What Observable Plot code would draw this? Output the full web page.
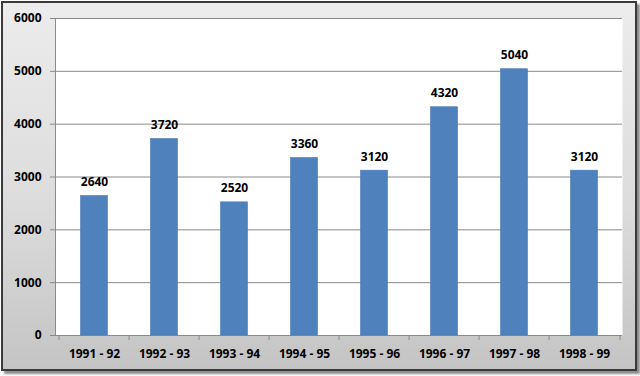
<!DOCTYPE html>
<html>
<head>
<meta charset="utf-8">
<script src="https://cdn.jsdelivr.net/npm/d3@7"></script>
<script src="https://cdn.jsdelivr.net/npm/@observablehq/plot@0.6"></script>
<style>
  html, body { margin: 0; padding: 0; background: #fff; }
  #wrap { position: relative; width: 640px; height: 376px; overflow: hidden; }
  #box {
    position: absolute; left: 1px; top: 1px; width: 636px; height: 370px;
    box-sizing: border-box; border: 2px solid #3a3a3a;
    background: linear-gradient(to bottom, #ececec 0%, #dcdcdc 55%, #c4c4c4 100%);
    box-shadow: 3px 3px 2px rgba(0,0,0,0.45);
  }
  #chart { position: absolute; left: 0; top: 0; }
  #chart svg { background: transparent !important; }
</style>
</head>
<body>
<div id="wrap"><div id="box"></div><div id="chart"></div></div>
<script>
const categories = ["1991 - 92", "1992 - 93", "1993 - 94", "1994 - 95", "1995 - 96", "1996 - 97", "1997 - 98", "1998 - 99"];
const values = [2640, 3720, 2520, 3360, 3120, 4320, 5040, 3120];
const yTicks = [0, 1000, 2000, 3000, 4000, 5000, 6000];

const data = categories.map((c, i) => ({category: c, value: values[i]}));

const W = 640, H = 376, mL = 55, mR = 18, mT = 18, mB = 41;
const step = (W - mL - mR) / categories.length;

const chart = Plot.plot({
  width: W,
  height: H,
  marginLeft: mL,
  marginRight: mR,
  marginTop: mT,
  marginBottom: mB,
  style: {background: "transparent", fontFamily: "'Open Sans', 'Liberation Sans', sans-serif", fontSize: "12px", fontWeight: "bold", color: "#000"},
  x: {domain: categories, padding: 0, label: null},
  y: {domain: [0, 6000], label: null},
  marks: [
    Plot.frame({fill: "white", stroke: null}),
    Plot.ruleY(yTicks, {stroke: "#8a8a8a", strokeWidth: 1}),
    Plot.barY(data, {x: "category", y: "value", fill: "#4f81bd", stroke: "#4a7ab5", strokeWidth: 0.6, insetLeft: 21.5, insetRight: 21.5}),
    Plot.text(data, {x: "category", y: "value", text: d => String(d.value), dy: -14, fill: "#000", fontWeight: "bold", fontSize: 12}),
    Plot.frame({anchor: "left", stroke: "#8a8a8a"}),
    Plot.axisY({ticks: yTicks, tickSize: 5, tickPadding: 9, stroke: "#8a8a8a", fill: "#000", tickFormat: d => String(d), fontWeight: "bold", fontSize: 12, label: null}),
    Plot.axisX({tickSize: 0, tickPadding: 14, fill: "#000", fontWeight: "bold", fontSize: 12, label: null}),
    Plot.ruleX(categories, {x: d => d, y1: 0, y2: -95, dx: -step / 2, stroke: "#8a8a8a"}),
    Plot.ruleX(categories.slice(-1), {x: d => d, y1: 0, y2: -95, dx: step / 2, stroke: "#8a8a8a"})
  ]
});
document.getElementById("chart").appendChild(chart);
</script>
</body>
</html>
